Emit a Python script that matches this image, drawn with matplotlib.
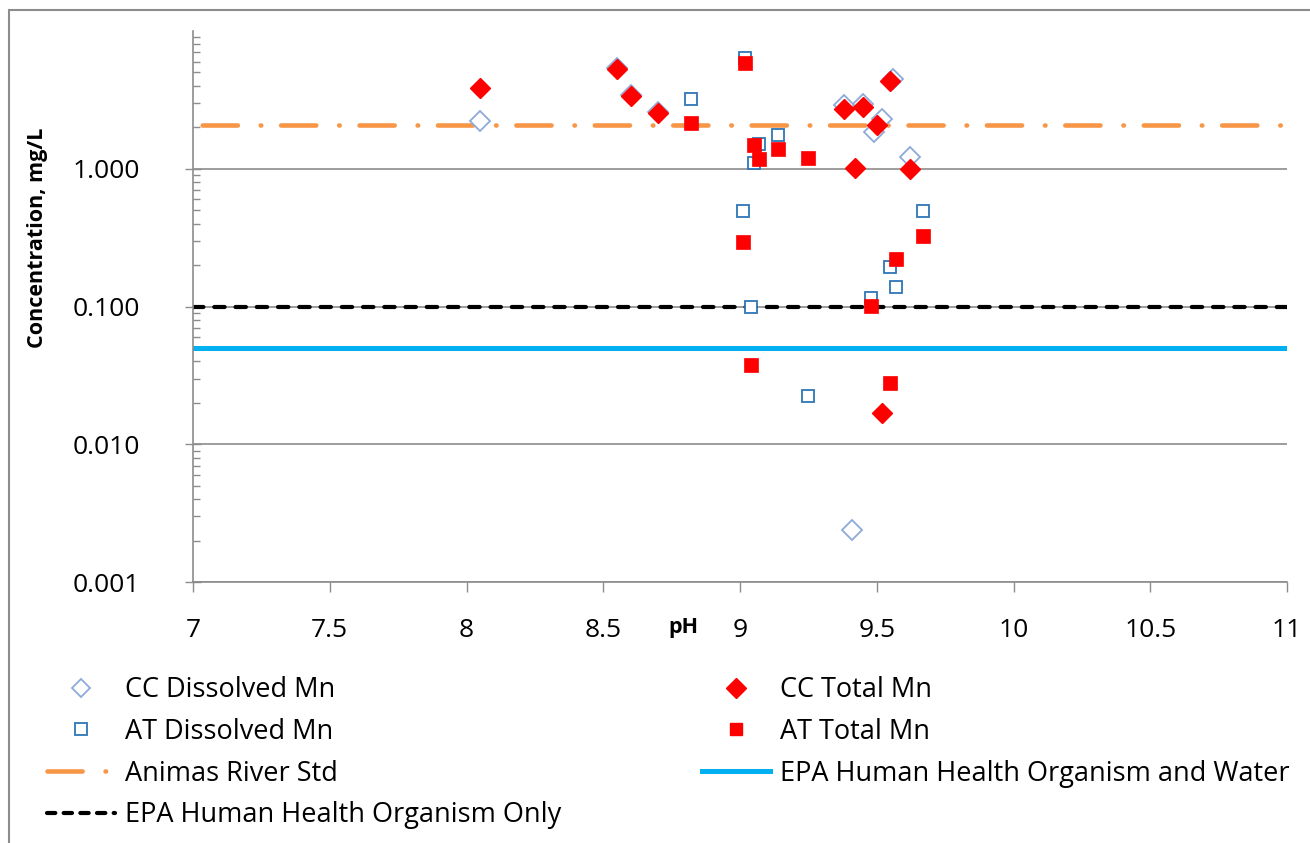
import matplotlib
matplotlib.use("Agg")
import matplotlib.pyplot as plt
from matplotlib.lines import Line2D
from matplotlib.patches import Rectangle
from matplotlib.ticker import LogLocator, FixedLocator, FormatStrFormatter, NullFormatter

plt.rcParams['font.family'] = ['Open Sans', 'DejaVu Sans']

# CC samples (diamonds)
cc_diss_ph = [8.05, 8.55, 8.60, 8.70, 9.38, 9.41, 9.45, 9.49, 9.52, 9.56, 9.62]
cc_diss_mn = [2.23, 5.42, 3.45, 2.6, 2.92, 0.0024, 2.96, 1.86, 2.31, 4.5, 1.22]
cc_tot_ph = [8.05, 8.55, 8.60, 8.70, 9.38, 9.42, 9.45, 9.50, 9.52, 9.55, 9.62]
cc_tot_mn = [3.88, 5.32, 3.39, 2.55, 2.73, 1.02, 2.82, 2.09, 0.0169, 4.36, 1.00]

# AT samples (squares)
at_diss_ph = [8.82, 9.02, 9.07, 9.05, 9.14, 9.01, 9.67, 9.55, 9.57, 9.48, 9.04, 9.25]
at_diss_mn = [3.22, 6.40, 1.52, 1.10, 1.77, 0.496, 0.496, 0.194, 0.139, 0.116, 0.0995, 0.0225]
at_tot_ph = [8.82, 9.02, 9.05, 9.07, 9.14, 9.25, 9.01, 9.67, 9.57, 9.48, 9.04, 9.55]
at_tot_mn = [2.16, 5.89, 1.49, 1.18, 1.40, 1.20, 0.295, 0.326, 0.222, 0.101, 0.0377, 0.0279]

# standards
std_ph = [7, 11]
animas_std = [2.09, 2.09]
epa_org_water = [0.05, 0.05]
epa_org_only = [0.1, 0.1]

xticks = [7, 7.5, 8, 8.5, 9, 9.5, 10, 10.5, 11]
xticklabels = ['7', '7.5', '8', '8.5', '9', '9.5', '10', '10.5', '11']
yticks = [0.001, 0.01, 0.1, 1]

light_blue = '#8eaadb'
blue = '#2e75b6'
red = '#ff0000'
orange = '#f79646'
cyan = '#00b0f0'
grey = '#8c8c8c'

fig = plt.figure(figsize=(13.1, 8.43), dpi=100)
ax = fig.add_axes([193/1310, 1-582/843, (1287-193)/1310, (582-31)/843])

ax.set_yscale('log')
ax.set_xlim(7, 11)
ax.set_ylim(0.001, 10)

ax.yaxis.set_major_locator(FixedLocator(yticks))
ax.yaxis.set_major_formatter(FormatStrFormatter('%.3f'))
ax.yaxis.set_minor_locator(LogLocator(base=10, subs=range(2, 10)))
ax.yaxis.set_minor_formatter(NullFormatter())
ax.set_xticks(xticks)
ax.set_xticklabels(xticklabels)

for s in ['top', 'right']:
    ax.spines[s].set_visible(False)
for s in ['left', 'bottom']:
    ax.spines[s].set_color(grey)
    ax.spines[s].set_linewidth(1.2)

ax.grid(axis='y', which='major', color=grey, linewidth=1.2)
ax.set_axisbelow(True)
ax.tick_params(axis='y', which='major', direction='inout', length=12, width=1.0,
               color=grey, pad=32, labelsize=19)
ax.tick_params(axis='y', which='minor', direction='in', length=5, width=1.0, color=grey)
ax.tick_params(axis='x', which='major', direction='out', length=7, width=1.0,
               color=grey, pad=19, labelsize=19)

ax.plot(std_ph, animas_std, color=orange, linewidth=3.3, dash_capstyle='round',
        linestyle=(15.1, (7.67, 5.0, 0.11, 4.33)), zorder=2)
ax.plot(std_ph, epa_org_water, color=cyan, linewidth=3.6, zorder=2)
ax.plot(std_ph, epa_org_only, color='black', linewidth=3.0, dash_capstyle='round',
        linestyle=(0, (2.5, 2.6)), zorder=2)

ax.plot(cc_diss_ph, cc_diss_mn, linestyle='none', marker='D', markersize=10,
        markerfacecolor='white', markeredgecolor=light_blue, markeredgewidth=1.3, zorder=3)
ax.plot(cc_tot_ph, cc_tot_mn, linestyle='none', marker='D', markersize=10,
        markerfacecolor=red, markeredgecolor=red, markeredgewidth=1.0, zorder=4)
ax.plot(at_diss_ph, at_diss_mn, linestyle='none', marker='s', markersize=9,
        markerfacecolor='white', markeredgecolor=blue, markeredgewidth=1.3, zorder=5)
ax.plot(at_tot_ph, at_tot_mn, linestyle='none', marker='s', markersize=9.5,
        markerfacecolor=red, markeredgecolor=red, markeredgewidth=0.5, zorder=6)

fig.text(38/1310, 1-238/843, 'Concentration, mg/L', rotation=90, ha='center',
         va='center', fontsize=15.5, fontweight='bold')
fig.text(683/1310, 1-627/843, 'pH', ha='center', va='center', fontsize=15.5,
         fontweight='bold')

# legend handles
h_cc_diss = Line2D([], [], linestyle='none', marker='D', markersize=9,
                   markerfacecolor='white', markeredgecolor=light_blue, markeredgewidth=1.3)
h_cc_tot = Line2D([], [], linestyle='none', marker='D', markersize=10,
                  markerfacecolor=red, markeredgecolor=red)
h_at_diss = Line2D([], [], linestyle='none', marker='s', markersize=8,
                   markerfacecolor='white', markeredgecolor=blue, markeredgewidth=1.3)
h_at_tot = Line2D([], [], linestyle='none', marker='s', markersize=9,
                  markerfacecolor=red, markeredgecolor=red)
h_animas = Line2D([], [], color=orange, linewidth=3.3, dash_capstyle='round',
                  linestyle=(0, (7.67, 5.0, 0.11, 4.33)))
h_water = Line2D([], [], color=cyan, linewidth=3.6)
h_only = Line2D([], [], color='black', linewidth=3.0, dash_capstyle='round',
                linestyle=(0, (2.0, 2.0)))

leg_kw = dict(frameon=False, fontsize=19.5, loc='upper left', borderpad=0, borderaxespad=0,
              handlelength=2.5, handletextpad=0.37, labelspacing=0.51)
leg1 = fig.legend([h_cc_diss, h_at_diss, h_animas, h_only],
                  ['CC Dissolved Mn', 'AT Dissolved Mn', 'Animas River Std',
                   'EPA Human Health Organism Only'],
                  bbox_to_anchor=(47/1310, 1-676/843), **leg_kw)
leg2 = fig.legend([h_cc_tot, h_at_tot, h_water],
                  ['CC Total Mn', 'AT Total Mn', 'EPA Human Health Organism and Water'],
                  bbox_to_anchor=(702/1310, 1-676/843), **leg_kw)

fig.add_artist(Rectangle((9/1310, -0.1), 1.2, 1.1 - 10/843, transform=fig.transFigure,
                         fill=False, edgecolor=grey, linewidth=1.5))

fig.savefig('out.png', dpi=100)
